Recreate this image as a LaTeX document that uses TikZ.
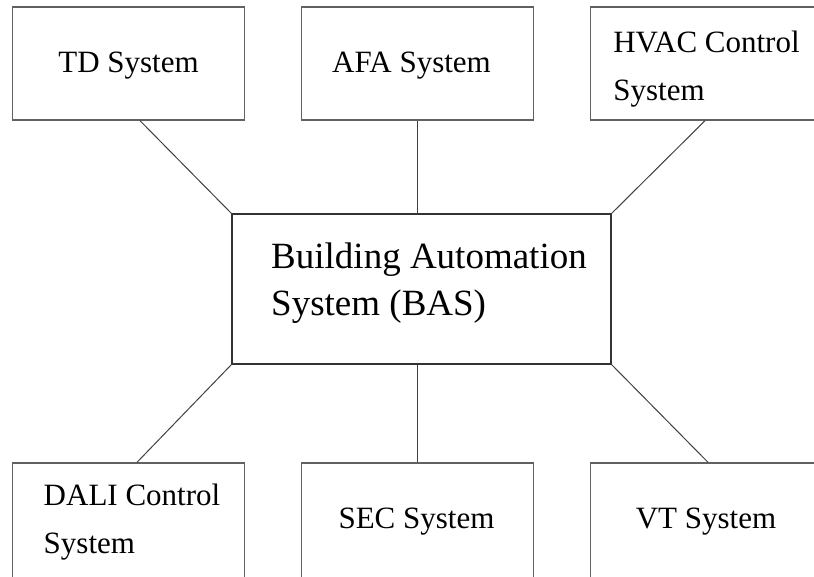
\documentclass[tikz,border=0pt]{standalone}
\usepackage{fontspec}
\setmainfont{Liberation Serif}
\begin{document}
\begin{tikzpicture}[x=1pt,y=-1pt,
  subsys/.style={draw=black!62, line width=1.4pt, rectangle,
    minimum width=232pt, minimum height=113pt, inner sep=0pt},
  lowsys/.style={subsys, minimum height=127pt},
  label text/.style={align=left, inner sep=0pt, font=\fontsize{31}{48}\selectfont},
  core/.style={draw=black!80, line width=1.3pt, rectangle,
    minimum width=379pt, minimum height=150pt, inner sep=0pt},
  coretext/.style={align=left, inner sep=0pt, font=\fontsize{37}{47}\selectfont},
  link/.style={draw=black!75, line width=1pt}]
\useasboundingbox (0,0) rectangle (814,576);
\begin{scope}
\clip (0,0) rectangle (814,576);
% central system
\node[core] (bas) at (421.5,289) {};
\node[coretext] (bastext) at (429,283) {Building Automation\\System (BAS)};
% upper row
\node[subsys] (td)   at (128.5,63.5) {};
\node[subsys] (afa)  at (417.5,63.5) {};
\node[subsys] (hvac) at (706.5,63.5) {};
\node[label text] (tdtext)   at (128.5,66) {TD System};
\node[label text] (afatext)  at (411.5,66) {AFA System};
\node[label text] (hvactext) at (706.5,69) {HVAC Control\\System};
% lower row, running past the lower edge
\node[lowsys] (dali) at (128.5,526.5) {};
\node[lowsys] (sec)  at (417.5,526.5) {};
\node[lowsys] (vt)   at (706.5,526.5) {};
\node[label text] (dalitext) at (132,522) {DALI Control\\System};
\node[label text] (sectext)  at (416.5,522) {SEC System};
\node[label text] (vttext)   at (706,522) {VT System};
% connections to the central system
\draw[link] ([xshift=11.5pt]td.south) -- (bas.north west);
\draw[link] (afa.south) -- (afa.south |- bas.north);
\draw[link] ([xshift=-1.5pt]hvac.south) -- (bas.north east);
\draw[link] ([xshift=8.5pt]dali.north) -- (bas.south west);
\draw[link] (sec.north) -- (sec.north |- bas.south);
\draw[link] ([xshift=1.5pt]vt.north) -- (bas.south east);
\end{scope}
\end{tikzpicture}
\end{document}
